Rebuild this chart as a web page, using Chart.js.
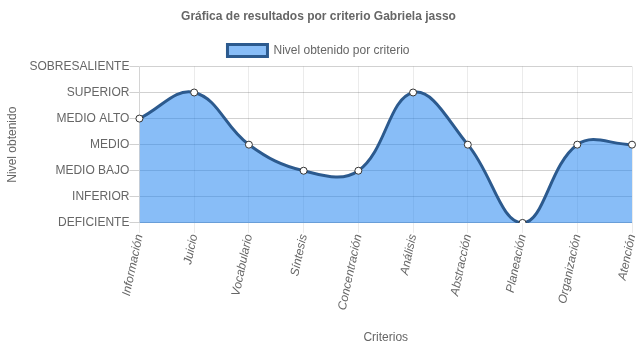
<!DOCTYPE html>
<html>
<head>
<meta charset="utf-8">
<script src="https://cdn.jsdelivr.net/npm/chart.js@4.4.0/dist/chart.umd.min.js"></script>
<style>
  html, body { margin: 0; padding: 0; background: #fff; }
  #wrap { width: 637px; height: 348px; }
</style>
</head>
<body>
<div id="wrap"><canvas id="lineChart"></canvas></div>
<script>
var criterios = ['Información', 'Juicio', 'Vocabulario', 'Síntesis', 'Concentración',
  'Análisis', 'Abstracción', 'Planeación', 'Organización', 'Atención'];
var niveles = ['DEFICIENTE', 'INFERIOR', 'MEDIO BAJO', 'MEDIO', 'MEDIO ALTO', 'SUPERIOR', 'SOBRESALIENTE'];
var resultados = [4, 5, 3, 2, 2, 5, 3, 0, 3, 3];

Chart.defaults.font.family = "Arial, 'Liberation Sans', sans-serif";
Chart.defaults.font.size = 12;
Chart.defaults.color = '#666';

var ctx = document.getElementById('lineChart').getContext('2d');
var config = {
  type: 'line',
  data: {
    labels: criterios,
    datasets: [{
      label: 'Nivel obtenido por criterio',
      data: resultados,
      fill: true,
      tension: 0.4,
      backgroundColor: 'rgba(30,130,240,0.53)',
      borderColor: '#2c5a8e',
      borderWidth: 3,
      pointBackgroundColor: '#fff',
      pointBorderColor: '#333',
      pointBorderWidth: 1,
      pointRadius: 3.5
    }]
  },
  options: {
    responsive: true,
    maintainAspectRatio: false,
    animation: false,
    layout: { padding: { left: 0, right: 0, top: 0, bottom: -1 } },
    plugins: {
      title: {
        display: true,
        text: 'Gráfica de resultados por criterio Gabriela jasso',
        font: { size: 12, weight: 'bold' },
        padding: { top: 9, bottom: 11 }
      },
      legend: {
        labels: { boxWidth: 40, boxHeight: 12, padding: 10 }
      },
      tooltip: { enabled: false }
    },
    scales: {
      x: {
        title: { display: true, text: 'Criterios', padding: { top: 19 } },
        grid: { color: 'rgba(0,0,0,0.08)', tickLength: 10 },
        ticks: { minRotation: 78, maxRotation: 78, font: { style: 'italic' }, padding: 0 },
        afterFit: function(scale) { scale.paddingRight = 3; }
      },
      y: {
        min: 0,
        max: 6,
        title: { display: true, text: 'Nivel obtenido', padding: { top: 5, bottom: 10 } },
        grid: { color: 'rgba(0,0,0,0.18)', tickLength: 10 },
        ticks: {
          stepSize: 1,
          padding: 0,
          callback: function(v) { return niveles[v]; }
        }
      }
    }
  }
};
window.myLine = new Chart(ctx, config);
</script>
</body>
</html>
